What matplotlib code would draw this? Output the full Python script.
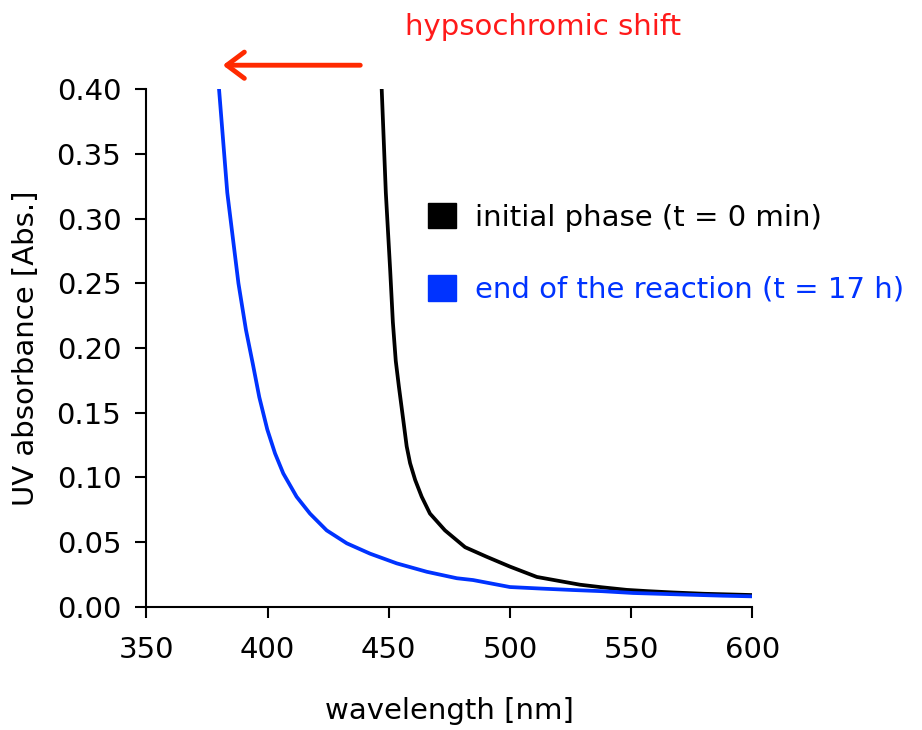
import matplotlib.pyplot as plt
from matplotlib.patches import Patch

# Values
wl_initial = [447.1, 448.8, 450.6, 451.7, 452.9, 454.2, 455.6, 457.4, 458.8, 460.9,
              463.6, 467.0, 473.2, 481.5, 490.4, 500.0, 511.1, 520.0, 528.9, 538.0,
              548.2, 557.0, 567.3, 580.0, 590.0, 600.0]
abs_initial = [0.400, 0.320, 0.260, 0.220, 0.190, 0.170, 0.150, 0.124, 0.111, 0.098,
               0.085, 0.072, 0.059, 0.046, 0.0386, 0.031, 0.023, 0.020, 0.017, 0.015,
               0.013, 0.012, 0.011, 0.010, 0.0095, 0.009]

wl_end = [380.0, 383.4, 388.0, 391.1, 393.9, 396.6, 399.9, 403.1, 406.5, 412.0,
          417.5, 424.4, 432.7, 442.3, 453.3, 465.7, 478.1, 484.8, 500.0, 513.0,
          526.0, 538.0, 550.8, 570.0, 587.9, 600.0]
abs_end = [0.400, 0.320, 0.250, 0.214, 0.188, 0.162, 0.137, 0.1185, 0.103, 0.085,
           0.072, 0.059, 0.049, 0.041, 0.0335, 0.027, 0.022, 0.0206, 0.0152, 0.014,
           0.0129, 0.012, 0.0106, 0.0095, 0.0085, 0.008]

labels = ['initial phase (t = 0 min)', 'end of the reaction (t = 17 h)']
colors = ['black', '#0033ff']
xticks = [350, 400, 450, 500, 550, 600]
yticks = [0.00, 0.05, 0.10, 0.15, 0.20, 0.25, 0.30, 0.35, 0.40]

plt.rcParams['font.family'] = 'DejaVu Sans'
plt.rcParams['font.size'] = 21

fig = plt.figure(figsize=(9.22, 7.3), dpi=100)
ax = fig.add_axes([0.1587, 0.1689, 0.6573, 0.7088])

ax.plot(wl_initial, abs_initial, color=colors[0], lw=2.7)
ax.plot(wl_end, abs_end, color=colors[1], lw=2.7)

ax.set_xlim(350, 600)
ax.set_ylim(0, 0.40)
ax.set_xticks(xticks)
ax.set_yticks(yticks)
ax.set_yticklabels(['%.2f' % v for v in yticks])
ax.spines['top'].set_visible(False)
ax.spines['right'].set_visible(False)
ax.spines['left'].set_linewidth(1.5)
ax.spines['bottom'].set_linewidth(1.5)
ax.tick_params(direction='out', length=8, width=1.5, labelsize=21)
ax.tick_params(axis='x', pad=13)
ax.tick_params(axis='y', pad=10)

ax.set_xlabel('wavelength [nm]', fontsize=21, labelpad=24)
ax.set_ylabel('UV absorbance [Abs.]', fontsize=21, labelpad=12)

# arrow + annotation
ax.annotate('', xy=(380.4, 0.4186), xytext=(439.4, 0.4186),
            arrowprops=dict(arrowstyle='->,head_length=0.6,head_width=0.45',
                            color='#ff2a00', lw=3.5),
            annotation_clip=False)
ax.text(456.7, 0.448, 'hypsochromic shift', color='#ff1a1a', fontsize=21,
        va='center', ha='left', clip_on=False)

handles = [Patch(color=c) for c in colors]
ax.legend(handles, labels, loc='upper left', frameon=False,
          bbox_to_anchor=(428 / 922, 1 - 203 / 730), bbox_transform=fig.transFigure,
          borderpad=0, borderaxespad=0, handlelength=0.95, handleheight=0.95,
          handletextpad=0.65, labelspacing=1.5, labelcolor=colors, fontsize=21)

fig.savefig('out.png', dpi=100)
